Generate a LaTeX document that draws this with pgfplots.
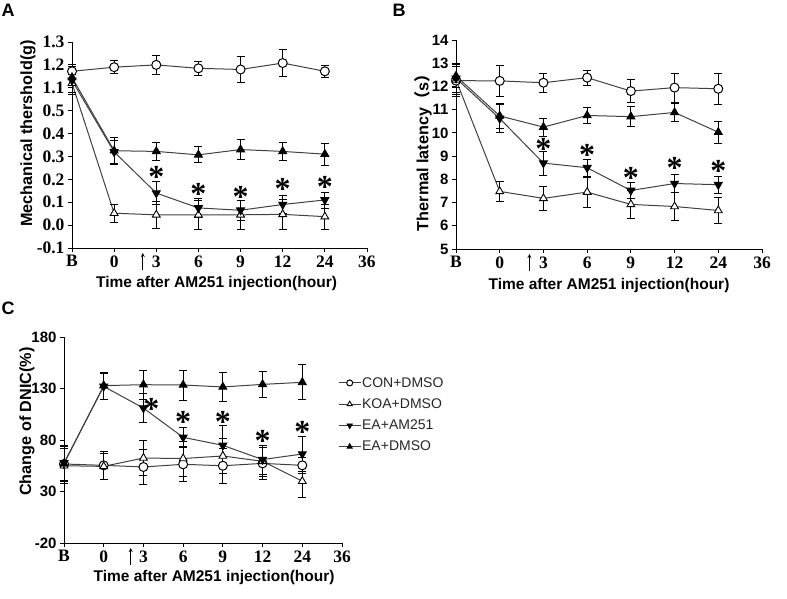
\documentclass[border=0pt]{standalone}
\usepackage{pgfplots}
\pgfplotsset{compat=1.18}
\usepackage{fontspec}
\setmainfont{Liberation Sans}
\newfontfamily\tnr{Liberation Serif}
\newfontfamily\cjk{Noto Sans CJK SC}

\pgfplotsset{
  panel/.style={
    scale only axis, clip=false,
    axis x line*=bottom, axis y line*=left,
    xmin=0, xmax=7, xtick={0,...,7},
    xticklabels={B,0,3,6,9,12,24,36},
    tick align=outside, major tick length=4pt,
    tick style={black, line width=0.8pt},
    axis line style={black, line width=0.8pt},
    xticklabel style={font=\tnr\bfseries\fontsize{17.5}{17.5}\selectfont},
    yticklabel style={font=\bfseries\fontsize{15}{15}\selectfont},
    xlabel style={font=\bfseries\fontsize{15.5}{16}\selectfont},
    ylabel style={font=\bfseries\fontsize{16.2}{17}\selectfont},
  },
  ser/.style={black!75, line width=1pt, mark size=4.5pt,
    error bars/y dir=both, error bars/y explicit,
    error bars/error bar style={black, line width=0.8pt},
    error bars/error mark options={rotate=90, mark size=4pt, black, line width=0.8pt}},
  con/.style={ser, mark=*, mark options={black, fill=white, solid, line width=1pt}},
  koa/.style={ser, mark=triangle*, mark options={black, fill=white, solid, line width=0.9pt}},
  am/.style={ser, mark=triangle*, mark options={black, fill=black, rotate=180}},
  dm/.style={ser, mark=triangle*, mark options={black, fill=black}},
}
\tikzset{
  star/.style={font=\tnr\bfseries\fontsize{32}{32}\selectfont, anchor=base, inner sep=0pt, yshift=-15pt},
  plab/.style={font=\bfseries\fontsize{18}{18}\selectfont, inner sep=0pt},
  harrow/.style={-stealth, line width=0.8pt},
}

\begin{document}
\begin{tikzpicture}[x=1pt, y=1pt]
\path[use as bounding box] (0,0) rectangle (787,598);

\node[plab] at (8,588) {A};
\node[plab] at (399,588) {B};
\node[plab] at (8,290) {C};

% Panel A: y axis broken between 0.5 and 1.1, values above 1.0 are stored shifted by -0.5
\begin{axis}[panel, at={(72pt,350pt)}, anchor=south west, width=295pt, height=206pt,
  ymin=-0.1, ymax=0.8, ytick={-0.1,0,0.1,0.2,0.3,0.4,0.5,0.6,0.7,0.8},
  yticklabels={-0.1,0.0,0.1,0.2,0.3,0.4,0.5,1.1,1.2,1.3},
  yticklabel style={font=\tnr\bfseries\fontsize{17.5}{17.5}\selectfont},
  xlabel={Time after AM251 injection(hour)}, ylabel={Mechanical thershold(g)},
  xlabel style={at={([yshift=-35pt]axis description cs:0.49,0)}, anchor=center},
  ylabel style={at={([xshift=-44pt]axis description cs:0,0.556)}, anchor=center}]
\addplot[con] coordinates {(0,0.672) +- (0,0.03) (1,0.690) +- (0,0.028) (2,0.700) +- (0,0.04) (3,0.685) +- (0,0.03) (4,0.680) +- (0,0.055) (5,0.708) +- (0,0.06) (6,0.672) +- (0,0.027)};
\addplot[koa] coordinates {(0,0.62) +- (0,0.04) (1,0.052) +- (0,0.04) (2,0.045) +- (0,0.06) (3,0.045) +- (0,0.065) (4,0.045) +- (0,0.065) (5,0.047) +- (0,0.065) (6,0.037) +- (0,0.055)};
\addplot[am] coordinates {(0,0.632) +- (0,0.06) (1,0.32) +- (0,0.05) (2,0.14) +- (0,0.05) (3,0.075) +- (0,0.04) (4,0.065) +- (0,0.045) (5,0.09) +- (0,0.04) (6,0.11) +- (0,0.035)};
\addplot[dm] coordinates {(0,0.645) +- (0,0.03) (1,0.325) +- (0,0.058) (2,0.322) +- (0,0.04) (3,0.307) +- (0,0.035) (4,0.33) +- (0,0.045) (5,0.322) +- (0,0.038) (6,0.31) +- (0,0.047)};
\node[star] at (axis cs:2,0.229) {*};
\node[star] at (axis cs:3,0.157) {*};
\node[star] at (axis cs:4,0.143) {*};
\node[star] at (axis cs:5,0.179) {*};
\node[star] at (axis cs:6,0.186) {*};
\draw[harrow] ([yshift=-22pt]axis cs:1.68,-0.1) -- ([yshift=-5pt]axis cs:1.68,-0.1);
\end{axis}

% Panel B
\begin{axis}[panel, at={(456pt,349pt)}, anchor=south west, width=306pt, height=209pt,
  ymin=5, ymax=14, ytick={5,...,14}, yticklabels={5,6,7,8,9,10,11,12,13,14},
  xlabel={Time after AM251 injection(hour)}, ylabel={Thermal latency{\cjk （}s{\cjk ）}},
  xlabel style={at={([yshift=-36pt]axis description cs:0.5,0)}, anchor=center},
  ylabel style={at={([xshift=-33pt]axis description cs:0,0.48)}, anchor=center}]
\addplot[con] coordinates {(0,12.25) +- (0,0.6) (1,12.24) +- (0,0.68) (2,12.16) +- (0,0.42) (3,12.38) +- (0,0.32) (4,11.8) +- (0,0.5) (5,11.95) +- (0,0.62) (6,11.9) +- (0,0.68)};
\addplot[koa] coordinates {(0,12.28) +- (0,0.7) (1,7.48) +- (0,0.42) (2,7.18) +- (0,0.5) (3,7.45) +- (0,0.65) (4,6.92) +- (0,0.62) (5,6.83) +- (0,0.6) (6,6.66) +- (0,0.57)};
\addplot[am] coordinates {(0,12.35) +- (0,0.6) (1,10.62) +- (0,0.6) (2,8.7) +- (0,0.52) (3,8.5) +- (0,0.38) (4,7.52) +- (0,0.34) (5,7.82) +- (0,0.4) (6,7.77) +- (0,0.36)};
\addplot[dm] coordinates {(0,12.45) +- (0,0.5) (1,10.73) +- (0,0.55) (2,10.25) +- (0,0.38) (3,10.75) +- (0,0.33) (4,10.7) +- (0,0.42) (5,10.88) +- (0,0.4) (6,10.03) +- (0,0.47)};
\node[star] at (axis cs:2,9.48) {*};
\node[star] at (axis cs:3,9.24) {*};
\node[star] at (axis cs:4,8.27) {*};
\node[star] at (axis cs:5,8.67) {*};
\node[star] at (axis cs:6,8.55) {*};
\draw[harrow] ([yshift=-22pt]axis cs:1.68,5) -- ([yshift=-5pt]axis cs:1.68,5);
\end{axis}

% Panel C
\begin{axis}[panel, at={(64pt,55pt)}, anchor=south west, width=278pt, height=206pt,
  ymin=-20, ymax=180, ytick={-20,30,80,130,180}, yticklabels={-20,30,80,130,180},
  xlabel={Time after AM251 injection(hour)}, ylabel={Change of DNIC(\%)},
  xlabel style={at={([yshift=-34pt]axis description cs:0.54,0)}, anchor=center},
  ylabel style={at={([xshift=-37pt]axis description cs:0,0.59)}, anchor=center},
  legend style={at={(rel axis cs:0.975,0.82)}, anchor=north west, draw=none, fill=none,
    font=\fontsize{14}{14}\selectfont, text=black!85, row sep=8pt,
    nodes={inner sep=1pt}},
  legend cell align=left,
  legend image code/.code={
    \draw[line width=0.9pt, mark size=3pt, mark repeat=2, mark phase=2]
      plot coordinates {(0pt,0pt) (11pt,0pt) (22pt,0pt)};}]
\addplot[con] coordinates {(0,56.7) +- (0,17) (1,55.4) +- (0,14) (2,53.8) +- (0,17) (3,56.4) +- (0,17) (4,55) +- (0,17) (5,57.3) +- (0,16) (6,55.4) +- (0,8)};
\addplot[koa] coordinates {(0,55) +- (0,17) (1,54.4) +- (0,13) (2,62.5) +- (0,17) (3,62) +- (0,17) (4,64.5) +- (0,17) (5,59.3) +- (0,15) (6,40) +- (0,16)};
\addplot[am] coordinates {(0,57.7) +- (0,17) (1,132) +- (0,13) (2,111) +- (0,14) (3,82.6) +- (0,10) (4,74.8) +- (0,19) (5,61) +- (0,14) (6,66.4) +- (0,17)};
\addplot[dm] coordinates {(0,57) +- (0,17) (1,132.8) +- (0,13) (2,133.7) +- (0,14) (3,133.4) +- (0,14.5) (4,131.5) +- (0,14) (5,134) +- (0,12.5) (6,136) +- (0,17)};
\legend{CON+DMSO, KOA+DMSO, EA+AM251, EA+DMSO}
\node[star, xshift=8pt] at (axis cs:2,114.3) {*};
\node[star] at (axis cs:3,101.4) {*};
\node[star] at (axis cs:4,102.3) {*};
\node[star] at (axis cs:5,83.6) {*};
\node[star] at (axis cs:6,92.3) {*};
\draw[harrow] ([yshift=-22pt]axis cs:1.68,-20) -- ([yshift=-5pt]axis cs:1.68,-20);
\end{axis}
\end{tikzpicture}
\end{document}
